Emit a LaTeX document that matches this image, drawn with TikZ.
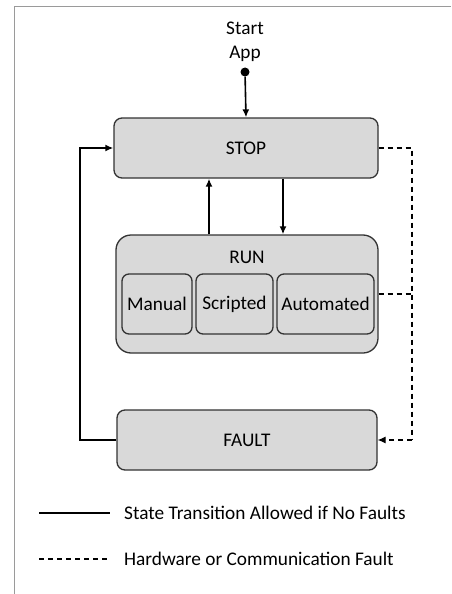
\documentclass[tikz,border=0pt]{standalone}
\usepackage{fontspec}
\setmainfont{Carlito}
\usetikzlibrary{arrows.meta}
\definecolor{boxfill}{HTML}{D9D9D9}
\definecolor{boxline}{HTML}{333333}
\definecolor{framegray}{HTML}{9A9A9A}
\begin{document}
\begin{tikzpicture}[
x=1pt, y=-1pt,
% states
state/.style={draw=boxline, fill=boxfill, line width=1.3pt, rounded corners=8pt, font=\fontsize{19.3}{23}\selectfont},
bigstate/.style={state, rounded corners=15pt},
mode/.style={state, rounded corners=7pt, minimum height=60pt, inner sep=0},
label/.style={font=\fontsize{19.3}{24}\selectfont, align=center},
% transitions
trans/.style={line width=1.6pt, -{Latex[length=8pt, width=7pt]}},
fault/.style={line width=1.1pt, dash pattern=on 5pt off 4pt},
faultarrow/.style={fault, -{Latex[length=8pt, width=7pt]}}
]

\useasboundingbox (0,0) rectangle (451,594);

% frame (only top and left are shown)
\draw[framegray, line width=1pt] (14,594) -- (14,7) -- (451,7);

% start point
\node[label] (startlbl) at (245,42) {Start\\App};
\node[circle, fill=black, inner sep=0, minimum size=9pt] (start) at (245,72) {};

% states
\node[state, minimum width=264pt, minimum height=60pt] (stop) at (246,148) {STOP};
\node[bigstate, minimum width=262pt, minimum height=118pt] (run) at (247,294) {};
\node[label] (runlbl) at (247,257) {RUN};
\node[mode, minimum width=70pt] (manual) at (157,304) {Manual};
\node[mode, minimum width=77pt] (scripted) at (234.5,304) {Scripted};
\node[mode, minimum width=97pt] (automated) at (325.5,304) {Automated};
\node[state, minimum width=260pt, minimum height=60pt] (fault) at (247,440) {FAULT};

% columns of the connectors
\coordinate (upx) at (209,0);
\coordinate (downx) at (283,0);
\coordinate (busx) at (412,0);
\coordinate (retx) at (80,0);

% transitions
\draw[trans] (start) -- (stop.north);
\draw[trans] (upx|-run.north) -- (upx|-stop.south);
\draw[trans] (downx|-stop.south) -- (downx|-run.north);
\draw[trans, rounded corners=0] (fault.west) -- (retx|-fault.west) -- (retx|-stop.west) -- (stop.west);

% faults
\draw[fault] (stop.east) -- (busx|-stop.east) -- (busx|-fault.east);
\draw[fault] (run.east) -- (busx|-run.east);
\draw[faultarrow] (busx|-fault.east) -- (fault.east);

% legend
\coordinate (leg1a) at (39,513);
\coordinate (leg1b) at (110,513);
\coordinate (leg2a) at (39,559);
\coordinate (leg2b) at (110,559);
\draw[line width=1.6pt] (leg1a) -- (leg1b);
\draw[fault] (leg2a) -- (leg2b);
\node[label, anchor=west, inner sep=0] (leg1) at (124,513) {State Transition Allowed if No Faults};
\node[label, anchor=west, inner sep=0] (leg2) at (124,559) {Hardware or Communication Fault};

\end{tikzpicture}
\end{document}
